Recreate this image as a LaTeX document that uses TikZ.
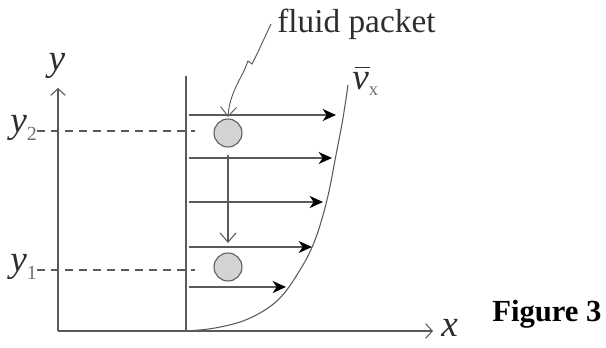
\documentclass[tikz,border=0pt]{standalone}
\usepackage{fontspec}
\setmainfont{Liberation Serif}
\usetikzlibrary{arrows.meta}
\definecolor{linegray}{HTML}{5A5A5A}
\definecolor{txtgray}{HTML}{2E2E2E}
\definecolor{subgray}{HTML}{707070}
\definecolor{packetfill}{HTML}{D3D3D3}
\tikzset{
  axis/.style={draw=linegray, line width=0.8pt, -{Straight Barb[length=5pt,width=11pt]}},
  wall/.style={draw=linegray, line width=0.8pt},
  flow/.style={draw=linegray, line width=1pt,
    -{Stealth[length=10pt,width=9pt,inset=3pt,color=black]}},
  drop/.style={draw=linegray, line width=0.8pt, -{Straight Barb[length=7pt,width=12pt]}},
  level/.style={draw=linegray, line width=0.8pt, dash pattern=on 6pt off 4.5pt},
  packet/.style={circle, draw=linegray, line width=0.8pt, fill=packetfill, minimum size=21pt, inner sep=0pt},
  big/.style={text=txtgray, inner sep=0pt, font=\fontsize{28}{28}\selectfont\itshape},
}
\newcommand{\lowsub}[1]{\raisebox{-6pt}{\fontsize{15}{15}\selectfont\upshape\color{subgray}#1}}
\begin{document}
\begin{tikzpicture}[x=0.75pt,y=-0.75pt]
\useasboundingbox (0,0) rectangle (606,348);
% axes and wall
\coordinate (O)     at (58,331);
\coordinate (ytip)  at (58,88);
\coordinate (xtip)  at (433,331);
\coordinate (wallb) at (186,331);
\coordinate (wallt) at (186,76);
\draw[axis] (O) -- (ytip);
\draw[axis] (O) -- (xtip);
\draw[wall] (wallb) -- (wallt);
% axis labels
\node[big, anchor=base] (ylab) at (57,71) {y};
\node[big, anchor=base west] (xlab) at (441,337) {x};
\node[big, anchor=base west] (y2lab) at (10,133) {y\lowsub{2}};
\node[big, anchor=base west] (y1lab) at (10,272) {y\lowsub{1}};
\draw[level] (y2lab.east |- 0,131) -- (195,131);
\draw[level] (y1lab.east |- 0,270) -- (195,270);
% velocity profile
\draw[wall] plot[smooth, tension=0.6] coordinates
  {(186,331) (215,328) (248,319) (278,300) (300,270) (315,240) (327,200) (336,155) (343,118) (348,85)};
\node[big, anchor=base west] (vlab) at (352,90)
  {\rlap{\kern0.07em\raisebox{0.6em}{\rule{0.4em}{0.6pt}}}v\raisebox{-4pt}{\fontsize{14}{14}\selectfont\upshape\color{subgray}x}};
% velocity arrows
\foreach \i/\yy/\xe in {1/115/336, 2/158/332, 3/202/323, 4/247/312, 5/287/286} {
  \coordinate (s\i) at (189,\yy);
  \coordinate (e\i) at (\xe,\yy);
  \draw[flow] (s\i) -- (e\i);
}
% fluid packets
\node[packet] (p2) at (228,133) {};
\node[packet] (p1) at (228,267) {};
\coordinate (d1) at (228,155);
\coordinate (d2) at (228,243);
\draw[drop] (d1) -- (d2);
% leader to the packet
\node[text=txtgray, inner sep=0pt, font=\fontsize{25}{25}\selectfont, anchor=west] (fp) at (277,24) {fluid packet};
\coordinate (ptop) at (228,117);
\draw[drop, line width=0.7pt] (fp.west) ++(-6,0) -- (257,54) -- (252,64) -- (248,61)
  -- (244,71) .. controls (236,86) and (229,99) .. (ptop);
% caption
\node[inner sep=0pt, font=\fontsize{23}{23}\selectfont\bfseries, anchor=base west] (cap) at (492,322) {Figure 3};
\end{tikzpicture}
\end{document}
